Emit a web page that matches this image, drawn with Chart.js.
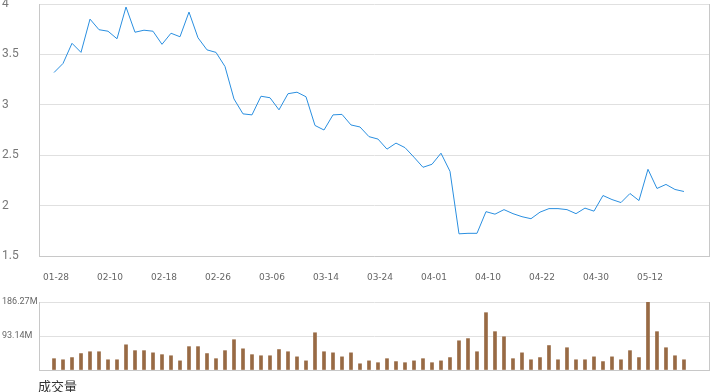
<!DOCTYPE html>
<html lang="zh-CN">
<head>
<meta charset="UTF-8">
<title>走势与成交量</title>
<script src="https://cdn.jsdelivr.net/npm/chart.js"></script>
<style>
  body { margin: 0; background: #fff; width: 720px; height: 392px; overflow: hidden; position: relative; }
  #price-box { position: absolute; left: 0; top: 0; width: 720px; height: 285px; }
  #vol-box { position: absolute; left: 0; top: 290px; width: 720px; height: 102px; }
  #vol-title { position: absolute; left: 38px; top: 379px; font: 13px "Noto Sans CJK SC", sans-serif; line-height: 1; color: #333; }
</style>
</head>
<body>
<div id="price-box"><canvas id="price-chart"></canvas></div>
<div id="vol-box"><canvas id="vol-chart"></canvas></div>
<div id="vol-title">成交量</div>

<script>
// 日期（每6个交易日显示一个标签）
const dates = [
  '01-28','01-29','02-04','02-05','02-06','02-07',
  '02-10','02-11','02-12','02-13','02-14','02-17',
  '02-18','02-19','02-20','02-21','02-24','02-25',
  '02-26','02-27','02-28','03-03','03-04','03-05',
  '03-06','03-07','03-10','03-11','03-12','03-13',
  '03-14','03-17','03-18','03-19','03-20','03-21',
  '03-24','03-25','03-26','03-27','03-28','03-31',
  '04-01','04-02','04-03','04-07','04-08','04-09',
  '04-10','04-11','04-14','04-15','04-17','04-21',
  '04-22','04-23','04-24','04-25','04-28','04-29',
  '04-30','05-06','05-07','05-08','05-09','05-11',
  '05-12','05-13','05-14','05-15','05-16'
];

// 收盘价
const prices = [
  3.32, 3.41, 3.61, 3.52, 3.85, 3.745,
  3.73, 3.655, 3.97, 3.72, 3.74, 3.73,
  3.60, 3.71, 3.675, 3.92, 3.665, 3.545,
  3.52, 3.38, 3.058, 2.91, 2.90, 3.085,
  3.07, 2.95, 3.11, 3.125, 3.08, 2.795,
  2.75, 2.90, 2.905, 2.80, 2.78, 2.684,
  2.66, 2.56, 2.62, 2.575, 2.48, 2.38,
  2.41, 2.52, 2.34, 1.72, 1.725, 1.725,
  1.94, 1.915, 1.96, 1.92, 1.89, 1.87,
  1.935, 1.97, 1.97, 1.96, 1.92, 1.975,
  1.945, 2.10, 2.06, 2.03, 2.12, 2.05,
  2.36, 2.17, 2.21, 2.16, 2.14
];

// 成交量（百万）
const volumes = [
  31, 28, 34, 45, 50, 50,
  28, 28, 69, 53, 53, 47,
  42, 39, 25, 64, 64, 45,
  31, 53, 83, 58, 42, 39,
  39, 56, 50, 36, 25, 102,
  50, 47, 36, 47, 17, 25,
  20, 31, 23, 20, 25, 31,
  20, 25, 34, 80, 86, 50,
  157, 105, 91, 31, 47, 28,
  34, 67, 28, 61, 28, 28,
  36, 23, 36, 28, 53, 34,
  186.27, 105, 61, 39, 28
];

const priceTicks = [1.5, 2, 2.5, 3, 3.5, 4];
const volTicks = [0, 93.135, 186.27];
const volTickLabels = ['', '93.14M', '186.27M'];

const X_MIN = -1.667, X_MAX = 72.78;
const GRID = '#e0e0e0', AXIS = '#c8c8c8';

function xScale(showLabels, height) {
  return {
    type: 'linear', min: X_MIN, max: X_MAX, offset: false,
    grid: { display: false, offset: false },
    border: { display: true, color: AXIS },
    afterBuildTicks: s => { s.ticks = dates.map((d, i) => ({ value: i })).filter(t => t.value % 6 === 0); },
    afterFit: s => { s.height = height; s.paddingLeft = 0; s.paddingRight = 0; },
    ticks: {
      display: showLabels, autoSkip: false, maxRotation: 0, padding: 8, labelOffset: 2,
      color: '#666', font: { family: 'DejaVu Sans', size: 9 },
      callback: v => dates[v]
    }
  };
}

function rightBorder() {
  return {
    type: 'linear', position: 'right', display: true,
    grid: { display: false }, ticks: { display: false },
    border: { display: true, color: AXIS },
    afterFit: s => { s.width = 0; s.paddingTop = 0; s.paddingBottom = 0; }
  };
}

new Chart(document.getElementById('price-chart'), {
  type: 'line',
  data: {
    datasets: [{
      data: prices.map((p, i) => ({ x: i, y: p })),
      borderColor: '#2a8fe0', borderWidth: 1, pointRadius: 0, tension: 0, fill: false
    }]
  },
  options: {
    responsive: true, maintainAspectRatio: false, animation: false,
    layout: { padding: { left: 2, right: 11, top: 4, bottom: 0 } },
    plugins: { legend: { display: false }, tooltip: { enabled: false } },
    scales: {
      x: xScale(true, 29),
      y: {
        min: 1.5, max: 4,
        afterBuildTicks: s => { s.ticks = priceTicks.map(v => ({ value: v })); },
        afterFit: s => { s.width = 37; s.paddingTop = 0; s.paddingBottom = 0; },
        grid: { color: GRID, drawTicks: false },
        border: { display: true, color: AXIS },
        ticks: {
          crossAlign: 'far', padding: 0, color: '#777', font: { family: 'Roboto', size: 12 },
          callback: v => String(v)
        }
      },
      r: rightBorder()
    }
  }
});

new Chart(document.getElementById('vol-chart'), {
  type: 'bar',
  data: {
    datasets: [{
      data: volumes.map((v, i) => ({ x: i, y: v })),
      backgroundColor: '#986a44', barThickness: 3
    }]
  },
  options: {
    responsive: true, maintainAspectRatio: false, animation: false,
    layout: { padding: { left: 2, right: 11, top: 12, bottom: 22 } },
    plugins: { legend: { display: false }, tooltip: { enabled: false } },
    scales: {
      x: xScale(false, 0),
      y: {
        min: 0, max: 186.27,
        afterBuildTicks: s => { s.ticks = volTicks.map(v => ({ value: v })); },
        afterFit: s => { s.width = 37; s.paddingTop = 0; s.paddingBottom = 0; },
        grid: { color: GRID, drawTicks: false },
        border: { display: true, color: AXIS },
        ticks: {
          crossAlign: 'far', padding: 0, color: '#666', font: { family: 'Roboto', size: 9 },
          callback: (v, i) => volTickLabels[i]
        }
      },
      r: rightBorder()
    }
  }
});
</script>
</body>
</html>
